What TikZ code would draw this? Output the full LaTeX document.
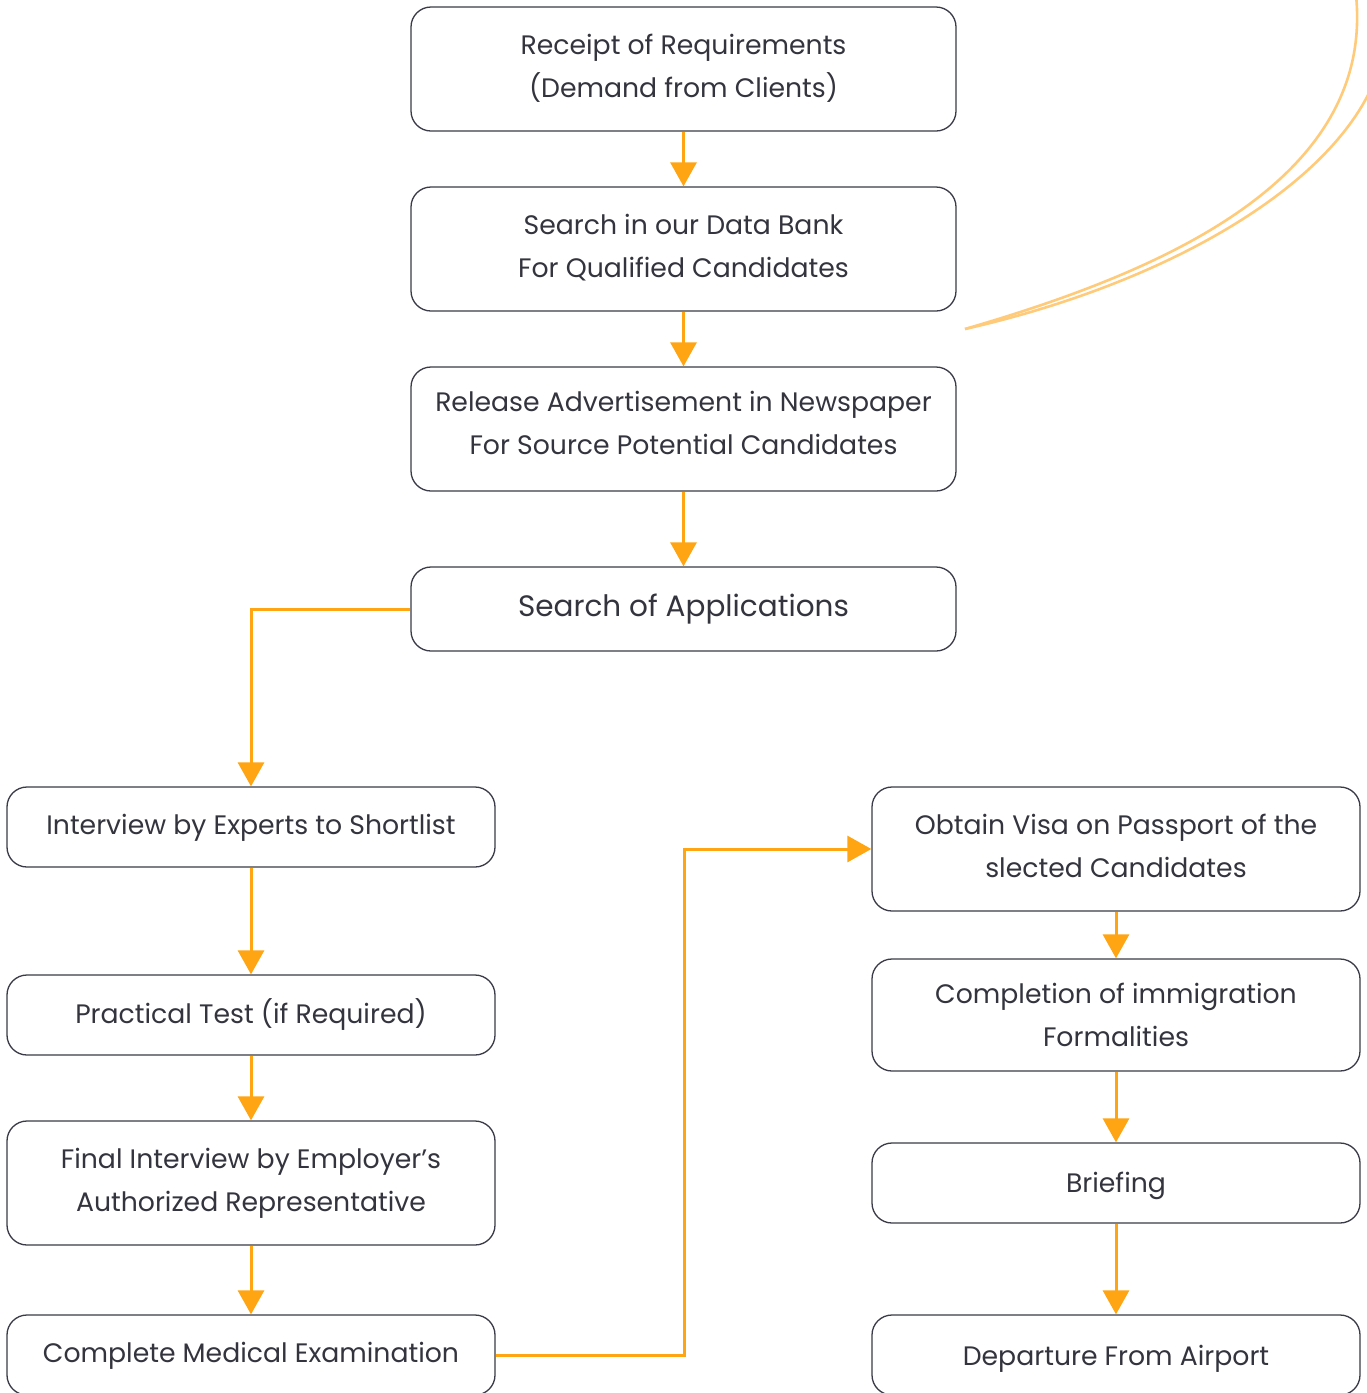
\documentclass[tikz,border=0pt]{standalone}
\usepackage{fontspec}
\setmainfont{Poppins}
\usetikzlibrary{arrows.meta}
\definecolor{orng}{HTML}{FFA412}
\definecolor{lorng}{HTML}{FFCB7A}
\definecolor{bord}{HTML}{3A3A48}
\definecolor{txt}{HTML}{34343F}
\tikzset{
  box/.style={draw=bord, line width=1.3pt, rounded corners=20pt, fill=white, inner sep=0pt},
  lbl/.style={align=center, text=txt, font=\fontsize{26.7}{43}\selectfont, inner sep=0pt},
  conn/.style={draw=orng, line width=3pt, -{Triangle[width=26pt,length=24pt]}},
  swoosh/.style={draw=lorng, line width=2.6pt}
}
\begin{document}
\begin{tikzpicture}[x=1pt,y=-1pt]
\useasboundingbox (0,0) rectangle (1367,1393);
\clip (0,0) rectangle (1367,1393);
% decorative curves
\draw[swoosh] (965,329) .. controls (1150,275) and (1375,185) .. (1356,-5);
\draw[swoosh] (965,329) .. controls (1160,285) and (1330,190) .. (1375,80);
% top column
\node[box, minimum width=545pt, minimum height=124pt] (a) at (683.5,69) {};
\node[lbl] (ta) at (683.5,67.4) {\strut Receipt of Requirements\\\strut (Demand from Clients)};
\node[box, minimum width=545pt, minimum height=124pt] (b) at (683.5,249) {};
\node[lbl] (tb) at (683.5,246.9) {\strut Search in our Data Bank\\\strut For Qualified Candidates};
\node[box, minimum width=545pt, minimum height=124pt] (c) at (683.5,429) {};
\node[lbl] (tc) at (683.5,423.9) {\strut Release Advertisement in Newspaper\\\strut For Source Potential Candidates};
\node[box, minimum width=545pt, minimum height=84pt] (d) at (683.5,609) {};
\node[lbl, font=\fontsize{29.5}{43}\selectfont] (td) at (683.5,607.7) {\strut Search of Applications};
% left column
\node[box, minimum width=488pt, minimum height=80pt] (e) at (251,827) {};
\node[lbl] (te) at (251,825.4) {\strut Interview by Experts to Shortlist};
\node[box, minimum width=488pt, minimum height=80pt] (f) at (251,1015) {};
\node[lbl] (tf) at (251,1014.4) {\strut Practical Test (if Required)};
\node[box, minimum width=488pt, minimum height=124pt] (g) at (251,1183) {};
\node[lbl] (tg) at (251,1180.9) {\strut Final Interview by Employer’s\\\strut Authorized Representative};
\node[box, minimum width=488pt, minimum height=80pt] (h) at (251,1355) {};
\node[lbl] (th) at (251,1353.4) {\strut Complete Medical Examination};
% right column
\node[box, minimum width=488pt, minimum height=124pt] (i) at (1116,849) {};
\node[lbl] (ti) at (1116,846.9) {\strut Obtain Visa on Passport of the\\\strut slected Candidates};
\node[box, minimum width=488pt, minimum height=112pt] (j) at (1116,1015) {};
\node[lbl] (tj) at (1116,1015.9) {\strut Completion of immigration\\\strut Formalities};
\node[box, minimum width=488pt, minimum height=80pt] (k) at (1116,1183) {};
\node[lbl] (tk) at (1116,1183.4) {\strut Briefing};
\node[box, minimum width=488pt, minimum height=80pt] (l) at (1116,1355) {};
\node[lbl] (tl) at (1116,1356.4) {\strut Departure From Airport};
% connectors
\draw[conn] (a) -- (b);
\draw[conn] (b) -- (c);
\draw[conn] (c) -- (d);
\draw[conn] (d.west) -| (e.north);
\draw[conn] (e) -- (f);
\draw[conn] (f) -- (g);
\draw[conn] (g) -- (h);
\coordinate (m1) at (684,1355);
\coordinate (m2) at (684,849);
\draw[conn] (h.east) -- (m1) -- (m2) -- (i.west);
\draw[conn] (i) -- (j);
\draw[conn] (j) -- (k);
\draw[conn] (k) -- (l);
\end{tikzpicture}
\end{document}
